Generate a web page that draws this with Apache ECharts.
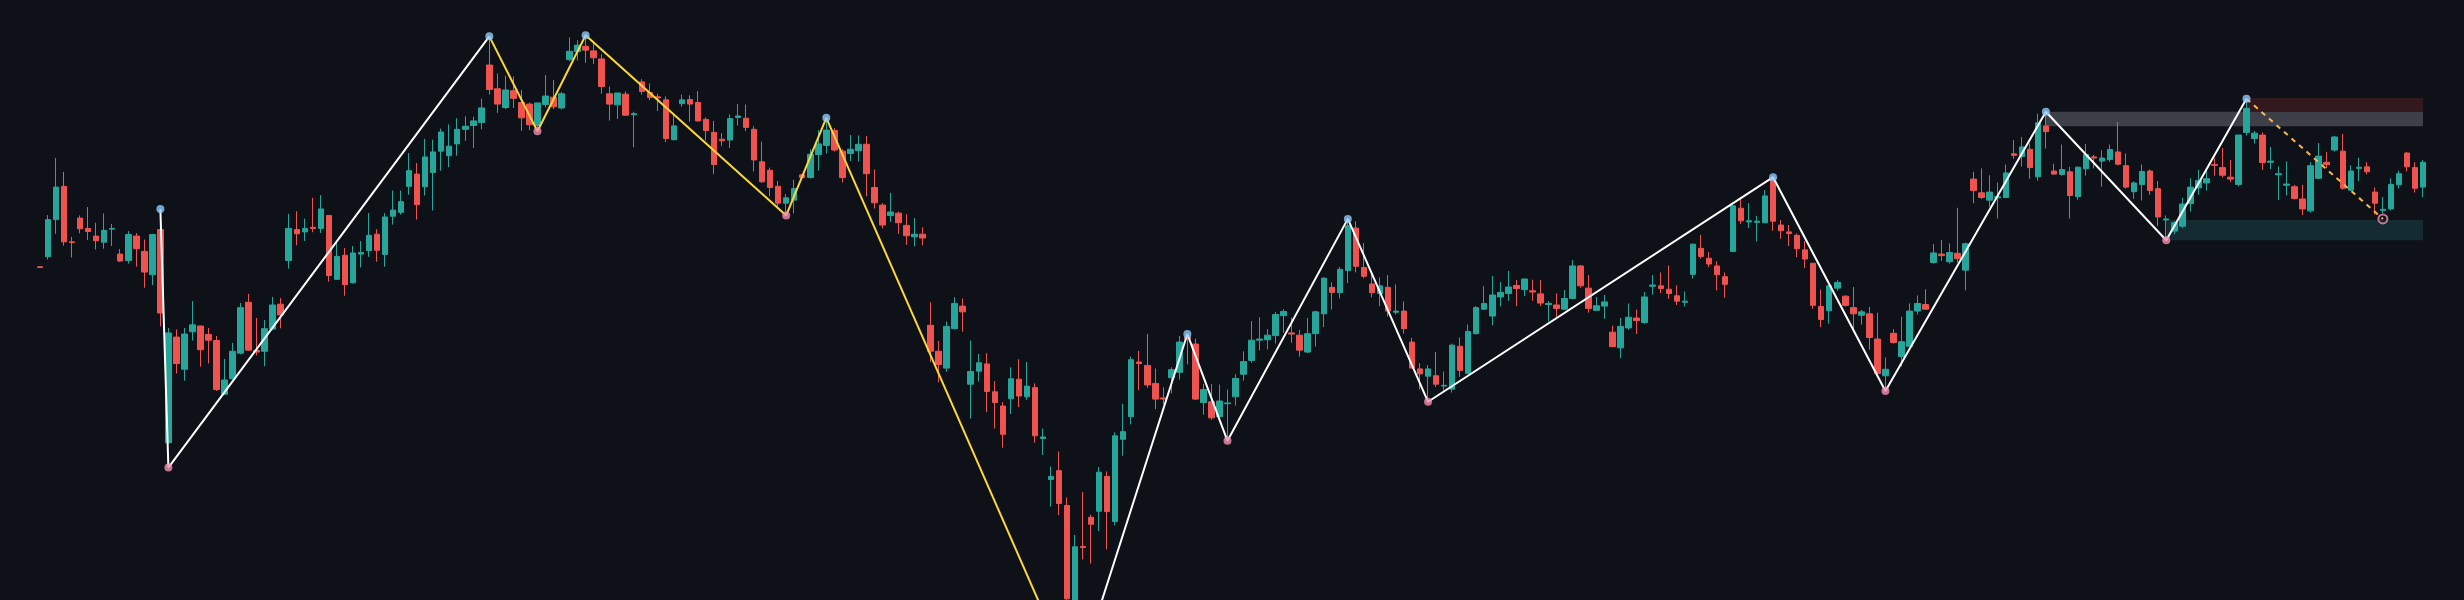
<!DOCTYPE html>
<html><head><meta charset="utf-8">
<script src="https://cdn.jsdelivr.net/npm/echarts@6/dist/echarts.min.js"></script>
<style>html,body{margin:0;padding:0;background:#0e1118}#c{width:2464px;height:600px}</style>
</head><body><div id="c"></div>
<script>
// candles: [open, close, low, high]
const ohlc = [
[871,869,868,871],[897,994,890,1006],[994,1079,957,1155],[1081,936,926,1119],[936,934,895,949],
[998,970,958,1005],[971,963,941,1027],[951,939,916,986],[935,966,918,1010],[969,971,925,983],
[904,886,883,917],[887,955,879,964],[951,918,871,959],[911,857,816,942],[850,955,823,957],
[968,750,715,971],[411,698,408,711],[687,618,592,707],[603,695,573,711],[701,719,678,781],
[716,654,610,717],[694,679,618,711],[678,550,546,690],[538,575,536,630],[578,650,576,672],
[645,764,642,776],[778,653,652,800],[652,648,639,737],[650,709,611,732],[708,771,706,792],
[773,745,710,789],[887,971,866,1009],[968,957,927,1016],[962,971,938,997],[974,971,961,1051],
[971,1022,959,1058],[1005,848,832,1005],[838,898,837,938],[901,824,795,920],[829,907,827,925],
[904,908,869,938],[913,953,897,1011],[956,914,884,969],[903,1001,871,1011],[1003,1019,981,1070],
[1013,1041,1007,1070],[1081,1122,1059,1168],[1113,1033,994,1142],[1080,1158,1057,1205],[1117,1171,1018,1203],
[1173,1223,1122,1232],[1161,1186,1131,1243],[1192,1230,1161,1259],[1230,1238,1200,1264],[1240,1252,1181,1263],
[1248,1286,1230,1310],[1398,1334,1321,1471],[1336,1296,1273,1376],[1287,1333,1283,1370],[1331,1311,1286,1368],
[1300,1260,1226,1333],[1296,1242,1228,1300],[1240,1299,1228,1299],[1295,1317,1287,1372],[1314,1289,1283,1359],
[1286,1323,1282,1328],[1412,1434,1408,1470],[1433,1450,1410,1463],[1447,1437,1404,1476],[1435,1417,1401,1455],
[1414,1342,1323,1426],[1323,1296,1253,1342],[1294,1325,1257,1325],[1322,1267,1266,1329],[1268,1271,1183,1276],
[1354,1329,1321,1361],[1326,1313,1306,1350],[1315,1312,1278,1323],[1307,1206,1197,1316],[1203,1239,1201,1268],
[1297,1307,1289,1321],[1308,1296,1250,1319],[1300,1252,1250,1330],[1256,1227,1201,1261],[1222,1138,1113,1252],
[1204,1200,1187,1220],[1202,1258,1181,1269],[1261,1265,1240,1296],[1259,1235,1225,1295],[1230,1150,1120,1238],
[1145,1093,1090,1198],[1123,1078,1055,1130],[1081,1037,1023,1095],[1037,1051,1008,1061],[1045,1075,1010,1098],
[1111,1104,1103,1113],[1104,1165,1102,1178],[1164,1192,1122,1228],[1188,1228,1167,1258],[1227,1176,1172,1233],
[1173,1104,1091,1178],[1167,1178,1147,1215],[1174,1191,1146,1214],[1191,1114,1055,1213],[1078,1038,1023,1125],
[1032,980,971,1037],[1005,1014,988,1064],[1011,986,957,1015],[979,952,928,1008],[949,956,924,998],
[956,946,927,974],[718,650,622,778],[650,615,569,677],[606,715,596,728],[709,775,707,791],
[768,753,701,788],[564,597,474,678],[598,620,571,643],[617,545,491,645],[544,516,448,572],
[507,433,398,517],[526,578,486,608],[577,533,504,629],[531,559,523,622],[555,429,411,566],
[422,426,379,448],[315,323,244,349],[338,252,222,388],[247,3,-40,268],[-35,139,-60,170],
[140,137,106,282],[216,198,95,223],[232,334,180,348],[323,231,132,336],[205,429,195,438],
[420,440,377,513],[479,628,459,636],[622,618,548,651],[613,562,554,695],[566,525,499,605],
[528,525,511,556],[581,602,540,608],[595,674,576,690],[688,683,616,695],[669,525,523,683],
[516,550,484,565],[518,476,471,564],[479,520,478,563],[513,515,418,550],[531,579,508,590],
[590,623,573,650],[626,679,620,729],[679,682,652,739],[680,692,655,708],[691,746,670,753],
[743,754,698,760],[698,695,672,738],[692,653,636,706],[648,696,645,737],[696,753,662,756],
[748,841,713,844],[817,804,759,830],[803,864,788,870],[861,978,828,993],[972,872,856,990],
[869,846,841,933],[826,803,791,851],[801,821,768,843],[817,755,741,849],[752,755,746,825],
[755,709,696,780],[674,606,606,685],[604,591,550,619],[585,604,520,614],[586,564,557,648],
[559,561,548,597],[551,666,542,670],[663,600,583,686],[592,702,591,720],[696,764,694,768],
[760,775,758,820],[742,797,718,847],[792,804,767,831],[801,818,782,860],[822,814,768,836],
[811,839,794,840],[808,805,782,837],[800,776,768,836],[772,775,728,781],[771,762,740,801],
[760,788,759,810],[788,873,787,888],[873,821,816,875],[815,762,751,849],[757,769,756,792],
[768,779,735,797],[700,662,662,717],[659,715,632,737],[711,739,706,775],[737,730,695,759],
[725,792,722,805],[820,823,798,849],[821,814,802,856],[812,801,787,874],[795,781,771,822],
[778,781,767,806],[851,930,840,931],[919,898,892,954],[893,878,870,909],[873,850,809,885],
[845,825,790,856],[911,1030,909,1032],[1024,991,983,1052],[988,991,972,1037],[987,990,937,1004],
[986,1056,985,1071],[1098,990,965,1103],[980,965,944,993],[962,958,925,980],[953,918,896,958],
[915,891,868,938],[880,770,761,881],[767,733,713,811],[756,821,722,823],[815,830,808,836],
[794,770,767,796],[764,748,708,818],[744,753,720,758],[748,686,654,766],[682,592,591,751],
[586,603,548,634],[697,673,670,708],[636,675,610,740],[663,755,662,775],[755,775,746,796],
[772,760,759,812],[882,907,879,930],[904,900,886,941],[884,908,879,932],[906,892,882,1025],
[862,931,809,934],[1100,1070,1037,1119],[1064,1052,1048,1128],[1045,1066,1027,1110],[1051,1054,997,1091],
[1052,1116,1050,1138],[1166,1162,1153,1202],[1159,1184,1133,1210],[1178,1130,1101,1193],[1106,1247,1096,1271],
[1239,1224,1180,1276],[1121,1113,1112,1140],[1112,1125,1109,1190],[1119,1057,997,1132],[1054,1131,1046,1133],
[1127,1164,1109,1192],[1158,1155,1128,1163],[1147,1155,1080,1175],[1151,1177,1145,1190],[1171,1139,1136,1249],
[1135,1079,1075,1167],[1067,1090,1048,1094],[1086,1120,1044,1138],[1121,1070,1059,1125],[1075,1001,977,1095],
[993,996,942,1005],[964,986,956,990],[977,1035,972,1051],[1036,1079,1015,1102],[1077,1096,1059,1124],
[1090,1101,1070,1121],[1138,1136,1109,1154],[1130,1110,1104,1181],[1105,1100,1092,1150],[1086,1215,1081,1216],
[1222,1285,1214,1310],[1206,1220,1193,1226],[1215,1143,1124,1222],[1144,1147,1126,1184],[1111,1114,1045,1133],
[1084,1087,1057,1146],[1080,1049,1047,1085],[1048,1022,1006,1085],[1017,1135,1012,1144],[1102,1160,1100,1194],
[1144,1138,1128,1171],[1176,1210,1172,1213],[1173,1076,1072,1218],[1071,1121,1069,1136],[1128,1131,1095,1156],
[1132,1119,1112,1144],[1066,1037,1007,1078],[1018,1021,1010,1053],[1022,1086,1018,1102],[1085,1114,1075,1122],
[1168,1132,1120,1171],[1130,1076,1065,1144],[1079,1144,1053,1150]
];
const categories = ohlc.map((_, i) => String(i));
// zigzag pivots [index, price]
const zigWhiteA = [[15,1022],[16,346],[56,1473]];
const zigYellow = [[56,1473],[62,1225],[68,1476],[93,1005],[98,1260],[129,-220]];
const zigWhiteB = [[129,-220],[143,695],[148,416],[163,996],[173,518],[216,1105],[230,546],[250,1276],[265,940],[275,1310]];
const zigDashed = [[275,1310],[292,996]];
const pivotHighs = [[15,1022],[56,1473],[68,1476],[98,1260],[143,695],[163,996],[216,1105],[250,1276],[275,1310]];
const pivotLows = [[16,346],[62,1225],[93,1005],[148,416],[173,518],[230,546],[265,940]];
const pendingLow = [[292,996]];
// zones [startIndex, endIndex, lowPrice, highPrice]
const zoneGray = [250, 297, 1238, 1276];
const zoneRed = [275, 297, 1276, 1312];
const zoneTeal = [265, 297, 940, 993];

const chart = echarts.init(document.getElementById('c'));
const lineS = (data, color, type) => ({
  type: 'line', data, symbol: 'none', clip: true, z: 5,
  lineStyle: { color, width: 2, type: type || 'solid' }, animation: false
});
const zone = (z, color) => [{ coord: [z[0], z[2]], itemStyle: { color } }, { coord: [z[1], z[3]] }];
chart.setOption({
  backgroundColor: '#0e1118',
  animation: false,
  grid: { left: 36, right: 37, top: 0, bottom: 0 },
  xAxis: { type: 'category', data: categories, show: false, boundaryGap: true },
  yAxis: { type: 'value', min: 0, max: 1568, show: false, splitLine: { show: false } },
  series: [
    {
      type: 'candlestick', data: ohlc, barWidth: 6, z: 3,
      itemStyle: { color: '#26a69a', color0: '#ef5350', borderColor: '#26a69a', borderColor0: '#ef5350', borderWidth: 1 },
      markArea: {
        silent: true,
        data: [zone(zoneGray, 'rgba(120,123,134,0.45)'), zone(zoneRed, 'rgba(120,40,40,0.35)'), zone(zoneTeal, 'rgba(38,110,110,0.3)')]
      }
    },
    lineS(zigWhiteA, '#ffffff'),
    lineS(zigYellow, '#fdd835'),
    lineS(zigWhiteB, '#ffffff'),
    lineS(zigDashed, '#ffb74d', [5, 5]),
    { type: 'scatter', data: pivotHighs, symbolSize: 8, z: 6, itemStyle: { color: '#90caf9' } },
    { type: 'scatter', data: pivotLows, symbolSize: 8, z: 6, itemStyle: { color: '#f48fb1' } },
    { type: 'scatter', data: pendingLow, symbolSize: 9, z: 6, itemStyle: { color: 'transparent', borderColor: '#f48fb1', borderWidth: 2 } }
  ]
});
</script></body></html>
